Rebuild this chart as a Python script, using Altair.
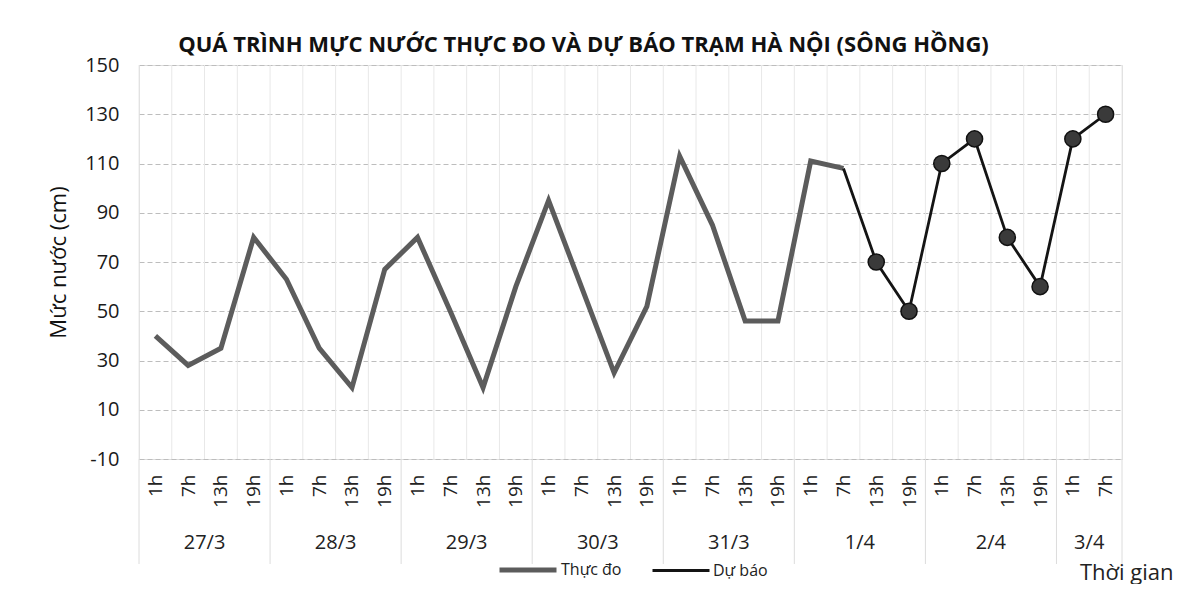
import altair as alt
import pandas as pd

# ---- data ----
days = ["27/3", "28/3", "29/3", "30/3", "31/3", "1/4", "2/4", "3/4"]
hours_per_day = [["1h", "7h", "13h", "19h"]] * 7 + [["1h", "7h"]]
hour_labels = [h for hs in hours_per_day for h in hs]

measured = [40, 28, 35, 80,
            63, 35, 19, 67,
            80, 50, 19, 60,
            95, 60, 25, 52,
            113, 85, 46, 46,
            111, 108]
forecast = [70, 50,
            110, 120, 80, 60,
            120, 130]

TITLE = "QUÁ TRÌNH MỰC NƯỚC THỰC ĐO VÀ DỰ BÁO TRẠM HÀ NỘI (SÔNG HỒNG)"
Y_TITLE = "Mức nước (cm)"
X_TITLE = "Thời gian"
S_MEAS = "Thực đo"
S_FC = "Dự báo"
FONT = "Open Sans"

# ---- tables ----
n = len(hour_labels)
rows = []
for i, v in enumerate(measured):
    rows.append({"idx": i, "value": v, "series": S_MEAS})
start = len(measured) - 1
rows.append({"idx": start, "value": measured[-1], "series": S_FC})
for j, v in enumerate(forecast):
    rows.append({"idx": start + 1 + j, "value": v, "series": S_FC})
df = pd.DataFrame(rows)
markers = df[(df.series == S_FC) & (df.idx > start)]

day_rows, bound_rows = [], []
pos = 0
for d, hs in zip(days, hours_per_day):
    day_rows.append({"day": d, "center": pos + (len(hs) - 1) / 2})
    bound_rows.append({"b": pos - 0.5})
    pos += len(hs)
bound_rows.append({"b": pos - 0.5})
day_df = pd.DataFrame(day_rows)
bound_df = pd.DataFrame(bound_rows)
grid_df = pd.DataFrame({"b": [i - 0.5 for i in range(n + 1)]})

W, H = 983, 394
xscale = alt.Scale(domain=[-0.5, n - 0.5], nice=False, zero=False)
yscale = alt.Scale(domain=[-10, 150], nice=False, zero=False)
label_expr = "[" + ",".join("'" + h + "'" for h in hour_labels) + "][datum.value]"

x_axis = alt.Axis(values=list(range(n)), labelExpr=label_expr,
                  labelAngle=270, labelFontSize=19, labelFont=FONT,
                  labelColor="#222", labelPadding=15, ticks=False,
                  domain=False, grid=False, labelOverlap=False, title=X_TITLE,
                  titleFont=FONT, titleFontSize=22, titleFontWeight="normal",
                  titleColor="#222", titleX=1034, titleY=113,
                  titleAlign="right", titleBaseline="middle")
y_axis = alt.Axis(values=list(range(-10, 151, 20)), labelExpr="toString(datum.value)",
                  labelFontSize=20, labelFont=FONT, labelColor="#1a1a1a",
                  labelPadding=20, ticks=False, domain=False, grid=True,
                  gridColor="#bdbdbd", gridDash=[5, 3], gridWidth=1,
                  title=Y_TITLE, titleFont=FONT, titleFontSize=22,
                  titleFontWeight="normal", titleColor="#111",
                  titlePadding=14)

vgrid = alt.Chart(grid_df).mark_rule(color="#e8e8e8", strokeWidth=1).encode(
    x=alt.X("b:Q", scale=xscale, axis=x_axis),
    y=alt.value(0), y2=alt.value(H),
)

seps = alt.Chart(bound_df).mark_rule(color="#dcdcdc", strokeWidth=1).encode(
    x=alt.X("b:Q", scale=xscale, axis=x_axis),
    y=alt.value(H), y2=alt.value(H + 105),
)

legend = alt.Legend(
    title=None, orient="none", legendX=358, legendY=474,
    direction="horizontal", symbolType="stroke", symbolSize=3249,
    symbolStrokeWidth=4,
    labelFont=FONT, labelFontSize=16, labelColor="#222",
    columnPadding=24, labelOffset=2,
)

lines = alt.Chart(df).mark_line(strokeJoin="miter").encode(
    x=alt.X("idx:Q", scale=xscale, axis=x_axis),
    y=alt.Y("value:Q", scale=yscale, axis=y_axis),
    color=alt.Color("series:N",
                    scale=alt.Scale(domain=[S_MEAS, S_FC], range=["#5c5c5c", "#141414"]),
                    legend=legend),
    strokeWidth=alt.StrokeWidth("series:N",
                                scale=alt.Scale(domain=[S_MEAS, S_FC], range=[5, 2.8]),
                                legend=None),
    detail="series:N",
)

pts = alt.Chart(markers).mark_point(shape="circle", filled=True, size=260,
                                     color="#3a3a3a", stroke="#111",
                                     strokeWidth=1.5, opacity=1).encode(
    x=alt.X("idx:Q", scale=xscale, axis=x_axis),
    y=alt.Y("value:Q", scale=yscale, axis=y_axis),
)

day_text = alt.Chart(day_df).mark_text(font=FONT, fontSize=20, color="#222",
                                        baseline="middle", align="center").encode(
    x=alt.X("center:Q", scale=xscale, axis=x_axis),
    y=alt.value(H + 84),
    text="day:N",
)

chart = alt.layer(vgrid, seps, lines, pts, day_text).properties(
    width=W, height=H,
    title=alt.Title(TITLE, font=FONT, fontSize=22, fontWeight="bold", color="#111",
                    anchor="middle", dx=-47, offset=-2),
    autosize=alt.AutoSizeParams(type="none"),
    padding={"left": 131, "top": 57, "right": 66, "bottom": 125},
).configure_view(stroke=None).configure(background="white")

chart.save("out.html", embed_options={"renderer": "svg", "actions": False})
